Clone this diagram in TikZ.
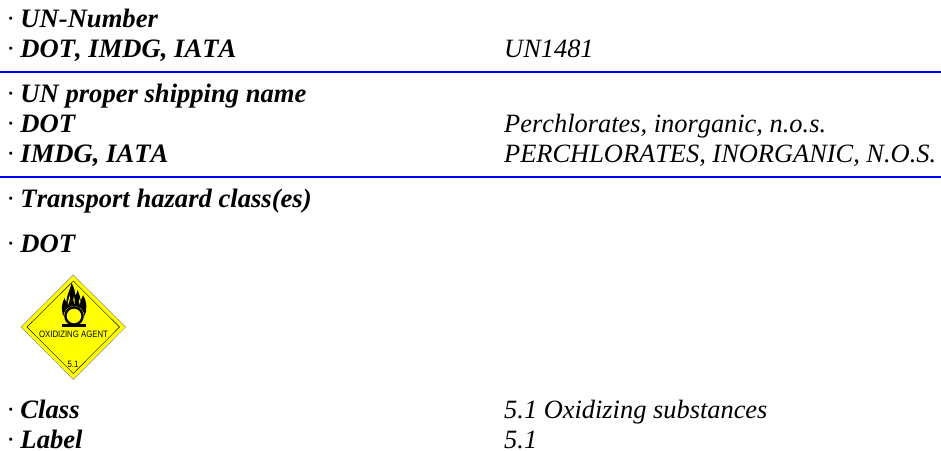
\documentclass[tikz,border=0pt]{standalone}
\usepackage{fontspec}
\setmainfont[Kerning=Off]{Liberation Serif}
\newfontfamily\hazfont{Liberation Sans}
\definecolor{rulecol}{RGB}{0,0,240}
\definecolor{hazy}{RGB}{255,255,0}
\tikzset{
  lab/.style={anchor=base west,inner sep=0pt,font=\fontsize{26.7}{30}\selectfont\bfseries\itshape},
  val/.style={anchor=base west,inner sep=0pt,font=\fontsize{26.5}{30}\selectfont\itshape},
  bluerule/.style={draw=rulecol,line width=2bp},
  haz/.style={inner sep=0pt,transform shape,xscale=.84,font=\hazfont\fontsize{9.3}{10}\selectfont}
}
\begin{document}
\begin{tikzpicture}[x=1bp,y=-1bp]
\useasboundingbox (0,0) rectangle (941,451);
\fill[white] (0,0) rectangle (941,451);
% labels
\node[lab] (a1) at (7,28) {{\mdseries ·} UN-Number};
\node[lab] (a2) at (7,58) {{\mdseries ·} DOT, IMDG, IATA};
\node[val] (v2) at (504,58) {UN1481};
\coordinate (r1a) at (0,72); \coordinate (r1b) at (941,72);
\draw[bluerule] (r1a) -- (r1b);
\node[lab] (b1) at (7,103) {{\mdseries ·} UN proper shipping name};
\node[lab] (b2) at (7,133) {{\mdseries ·} DOT};
\node[val] (v3) at (504,133) {Perchlorates, inorganic, n.o.s.};
\node[lab] (b3) at (7,163) {{\mdseries ·} IMDG, IATA};
\node[val] (v4) at (504,163) {PERCHLORATES, INORGANIC, N.O.S.};
\coordinate (r2a) at (0,177); \coordinate (r2b) at (941,177);
\draw[bluerule] (r2a) -- (r2b);
\node[lab] (c1) at (7,208) {{\mdseries ·} Transport hazard class(es)};
\node[lab] (c2) at (7,253) {{\mdseries ·} DOT};
\node[lab] (d1) at (7,418.5) {{\mdseries ·} Class};
\node[val] (v5) at (504,418.5) {5.1 Oxidizing substances};
\node[lab] (d2) at (7,448) {{\mdseries ·} Label};
\node[val] (v6) at (504,448) {5.1};
% placard
\fill[hazy,draw=black!45,line width=.5bp] (73.3,275) -- (125.6,327) -- (73.3,379.5) -- (21,327) -- cycle;
\draw[black,line width=.4bp] (73.3,281) -- (119.5,327) -- (73.3,373.5) -- (27,327) -- cycle;
\fill[black] (62,324.5) rectangle (85.5,327);
\fill[black] (63.5,316) .. controls (60.5,309) and (62,303) .. (64.5,298)
  .. controls (65,300) and (65.5,301) .. (66.5,302)
  .. controls (66,296) and (70,291) .. (71.5,283)
  .. controls (74,287) and (75,291) .. (75.5,296)
  .. controls (76.5,294) and (77,292) .. (77.5,290)
  .. controls (79,293) and (80,296) .. (80.5,300)
  .. controls (81.5,299) and (82.5,297) .. (83,295)
  .. controls (87,301) and (87.5,310) .. (84.5,316)
  .. controls (84,310) and (80,306) .. (74,306)
  .. controls (68,306) and (64,310) .. (63.5,316) -- cycle;
\fill[hazy] (68,305) .. controls (67.5,301) and (69,298) .. (70,295) .. controls (70,299) and (69.5,302) .. (68,305) -- cycle;
\fill[hazy] (80,305) .. controls (80.5,302) and (80.5,300) .. (80,298) .. controls (78.5,300) and (78.5,303) .. (80,305) -- cycle;
\fill[hazy] (74.5,304) .. controls (75,301) and (74.5,298) .. (74,296) .. controls (73,299) and (73,302) .. (74.5,304) -- cycle;
\draw[black,line width=2.4bp] (74,316) circle (8.6);
\node[haz] (h1) at (73.5,334) {OXIDIZING AGENT};
\node[haz] (h2) at (73,364) {5.1};
\end{tikzpicture}
\end{document}
